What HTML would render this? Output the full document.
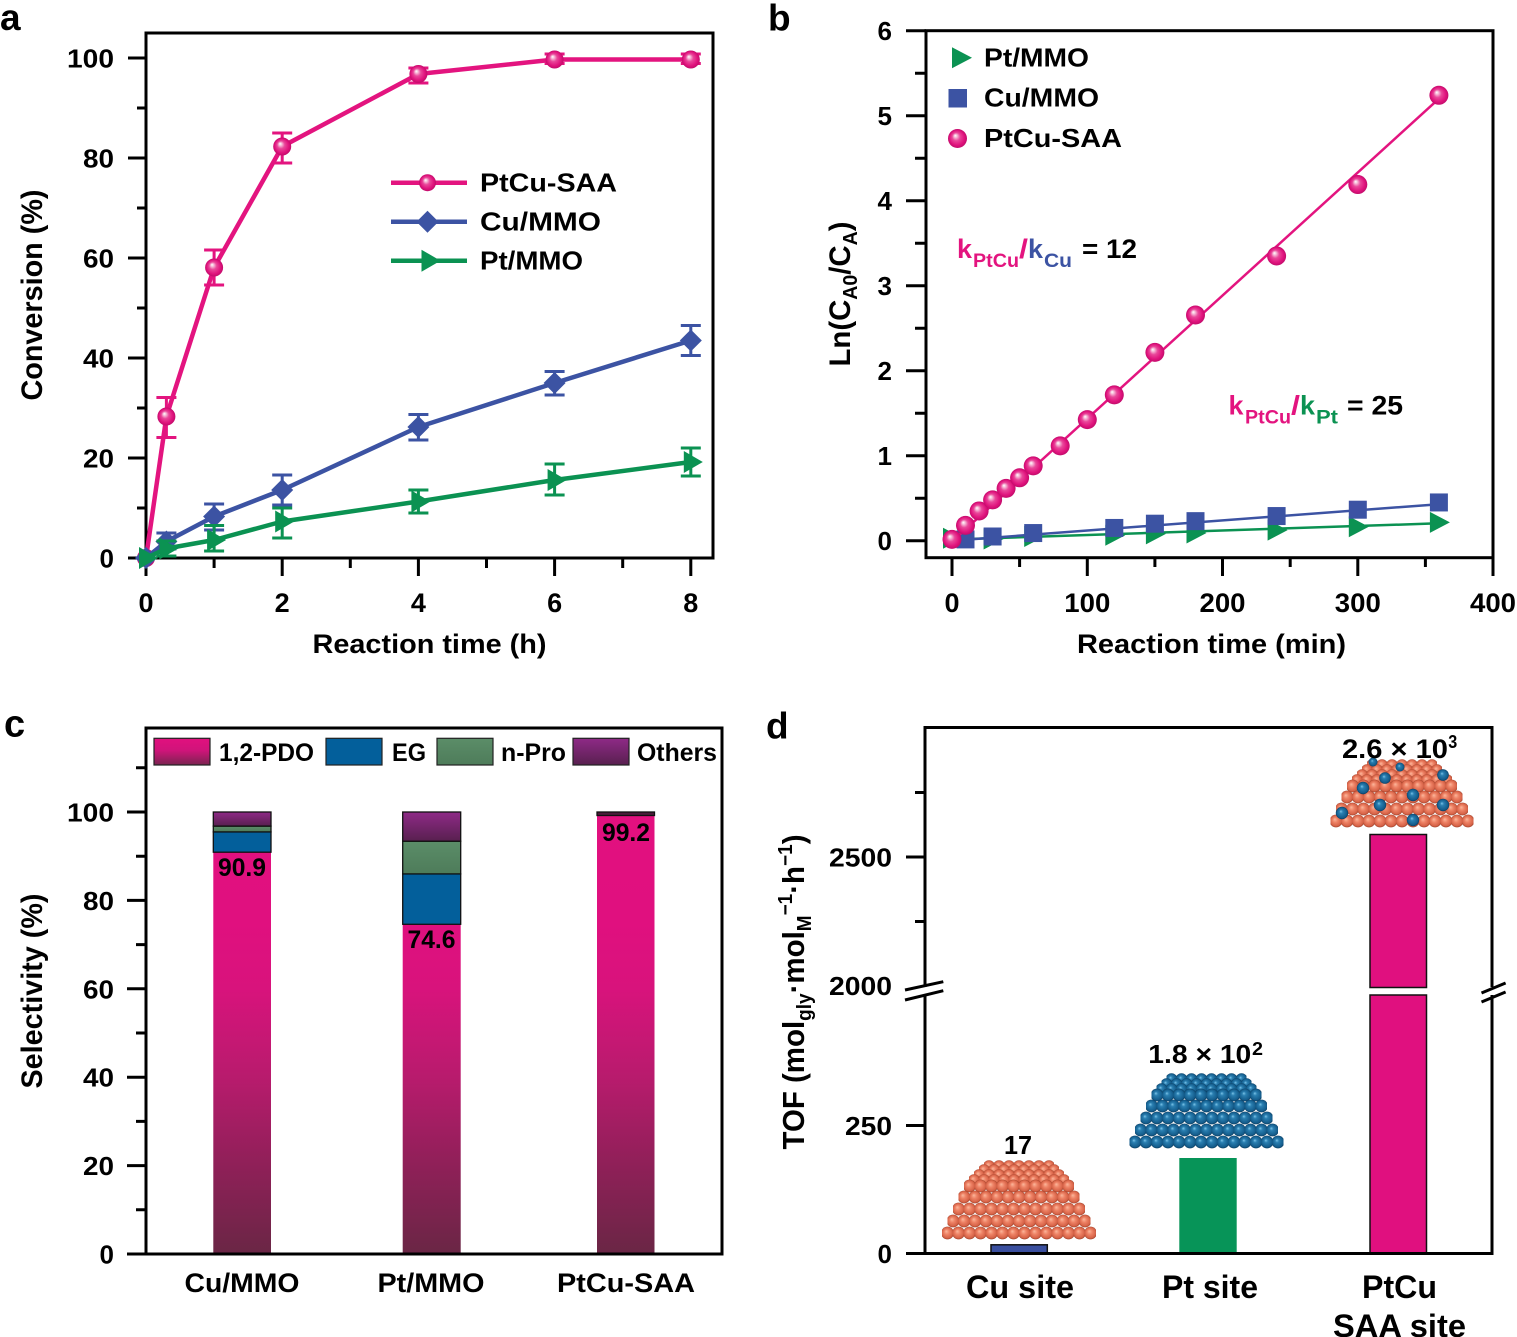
<!DOCTYPE html>
<html><head><meta charset="utf-8"><style>html,body{margin:0;padding:0;background:#fff}svg{display:block}</style></head><body>
<svg width="1517" height="1337" viewBox="0 0 1517 1337" xmlns="http://www.w3.org/2000/svg" font-family="'Liberation Sans', Arial, sans-serif" font-weight="bold">
<defs>
<radialGradient id="sph" cx="0.5" cy="0.5" r="0.5" fx="0.38" fy="0.34"><stop offset="0" stop-color="#ffffff"/><stop offset="0.15" stop-color="#f7c3dc"/><stop offset="0.42" stop-color="#e9479a"/><stop offset="0.78" stop-color="#e0137d"/><stop offset="1" stop-color="#c20c6b"/></radialGradient>
<radialGradient id="gCu" cx="0.5" cy="0.5" r="0.5" fx="0.4" fy="0.36"><stop offset="0" stop-color="#fbb79c"/><stop offset="0.4" stop-color="#ee8366"/><stop offset="0.85" stop-color="#d56146"/><stop offset="1" stop-color="#9c4029"/></radialGradient>
<radialGradient id="gBl" cx="0.5" cy="0.5" r="0.5" fx="0.4" fy="0.36"><stop offset="0" stop-color="#7cc4e8"/><stop offset="0.3" stop-color="#2a7fb1"/><stop offset="0.85" stop-color="#135b8a"/><stop offset="1" stop-color="#0a3a5c"/></radialGradient>
<pattern id="pCu" width="11" height="14" patternUnits="userSpaceOnUse"><circle cx="5.5" cy="7" r="6.4" fill="url(#gCu)"/></pattern>
<pattern id="pCuS" width="10" height="12" patternUnits="userSpaceOnUse"><circle cx="5" cy="6" r="5.8" fill="url(#gCu)"/></pattern>
<pattern id="pBl" width="11" height="14" patternUnits="userSpaceOnUse"><circle cx="5.5" cy="7" r="6.4" fill="url(#gBl)"/></pattern>
<pattern id="pBlS" width="10" height="12" patternUnits="userSpaceOnUse"><circle cx="5" cy="6" r="5.8" fill="url(#gBl)"/></pattern>
<linearGradient id="gPDO" gradientUnits="userSpaceOnUse" x1="0" y1="1254" x2="0" y2="812"><stop offset="0" stop-color="#6a2645"/><stop offset="0.2" stop-color="#8f2058"/><stop offset="0.4" stop-color="#b81b6d"/><stop offset="0.6" stop-color="#d8137c"/><stop offset="0.75" stop-color="#e0107f"/><stop offset="1" stop-color="#e2107f"/></linearGradient>
<linearGradient id="gPDOleg" x1="0" y1="0" x2="0" y2="1"><stop offset="0" stop-color="#e2107f"/><stop offset="0.45" stop-color="#d0147a"/><stop offset="1" stop-color="#7a2450"/></linearGradient>
<linearGradient id="gOth" x1="0" y1="0" x2="0" y2="1"><stop offset="0" stop-color="#8f2a87"/><stop offset="1" stop-color="#58204f"/></linearGradient>
<linearGradient id="gNP" x1="0" y1="0" x2="0" y2="1"><stop offset="0" stop-color="#5b8d68"/><stop offset="1" stop-color="#4e7c5a"/></linearGradient>
</defs>
<rect width="1517" height="1337" fill="#fff"/>

<!-- ============ PANEL A ============ -->
<text x="0" y="30" font-size="37">a</text>
<rect x="146" y="33" width="567" height="525" fill="none" stroke="#000" stroke-width="3"/>
<path d="M128 558H146M128 458H146M128 358H146M128 258H146M128 158H146M128 58H146M137 508H146M137 408H146M137 308H146M137 208H146M137 108H146" stroke="#000" stroke-width="3"/>
<path d="M146 558V576M282.2 558V576M418.4 558V576M554.6 558V576M690.8 558V576M214.1 558V568M350.3 558V568M486.5 558V568M622.7 558V568" stroke="#000" stroke-width="3"/>
<g font-size="26" text-anchor="end">
<text x="114" y="67.5" textLength="47" lengthAdjust="spacingAndGlyphs">100</text>
<text x="114" y="167.5" textLength="31" lengthAdjust="spacingAndGlyphs">80</text>
<text x="114" y="267.5" textLength="31" lengthAdjust="spacingAndGlyphs">60</text>
<text x="114" y="367.5" textLength="31" lengthAdjust="spacingAndGlyphs">40</text>
<text x="114" y="467.5" textLength="31" lengthAdjust="spacingAndGlyphs">20</text>
<text x="114" y="567.5">0</text>
</g>
<g font-size="27" text-anchor="middle">
<text x="146" y="612">0</text><text x="282.2" y="612">2</text><text x="418.4" y="612">4</text><text x="554.6" y="612">6</text><text x="690.8" y="612">8</text>
</g>
<text x="429.5" y="653" font-size="27" text-anchor="middle" textLength="234" lengthAdjust="spacingAndGlyphs">Reaction time (h)</text>
<text transform="translate(42,295) rotate(-90)" font-size="30" text-anchor="middle" textLength="211" lengthAdjust="spacingAndGlyphs">Conversion (%)</text>

<!-- PtCu series -->
<polyline points="146,558 166.4,416.5 214.1,267.5 282.2,146.5 418.4,74 554.6,59.5 690.8,59.5" fill="none" stroke="#e3147f" stroke-width="4.5" stroke-linejoin="round"/>
<path d="M166.4 397.5V437.5M156.4 397.5H176.4M156.4 437.5H176.4M214.1 250V285M204.1 250H224.1M204.1 285H224.1M282.2 133V163M272.2 133H292.2M272.2 163H292.2M418.4 68V83M408.4 68H428.4M408.4 83H428.4M554.6 54V63.5M544.6 54H564.6M544.6 63.5H564.6M690.8 54V63.5M680.8 54H700.8M680.8 63.5H700.8" stroke="#e3147f" stroke-width="3" fill="none"/>
<g fill="url(#sph)">
<circle cx="166.4" cy="416.5" r="9"/><circle cx="214.1" cy="267.5" r="9"/><circle cx="282.2" cy="146.5" r="9"/><circle cx="418.4" cy="74" r="9"/><circle cx="554.6" cy="59.5" r="9"/><circle cx="690.8" cy="59.5" r="9"/><circle cx="146" cy="558" r="9"/>
</g>
<!-- Cu series -->
<polyline points="146,558 166.4,541.5 214.1,516.5 282.2,490 418.4,427 554.6,383 690.8,340.5" fill="none" stroke="#3c53a3" stroke-width="4.5" stroke-linejoin="round"/>
<path d="M166.4 533V549M156.4 533H176.4M156.4 549H176.4M214.1 504V530M204.1 504H224.1M204.1 530H224.1M282.2 475V505M272.2 475H292.2M272.2 505H292.2M418.4 414.5V440M408.4 414.5H428.4M408.4 440H428.4M554.6 371.5V395M544.6 371.5H564.6M544.6 395H564.6M690.8 325.5V355.5M680.8 325.5H700.8M680.8 355.5H700.8" stroke="#3c53a3" stroke-width="3" fill="none"/>
<g fill="#3c53a3">
<path d="M135 558L146 547L157 558L146 569Z"/><path d="M155.4 541.5L166.4 530.5L177.4 541.5L166.4 552.5Z"/><path d="M203.1 516.5L214.1 505.5L225.1 516.5L214.1 527.5Z"/><path d="M271.2 490L282.2 479L293.2 490L282.2 501Z"/><path d="M407.4 427L418.4 416L429.4 427L418.4 438Z"/><path d="M543.6 383L554.6 372L565.6 383L554.6 394Z"/><path d="M679.8 340.5L690.8 329.5L701.8 340.5L690.8 351.5Z"/>
</g>
<!-- Pt series -->
<polyline points="146,558 166.4,548.5 214.1,540 282.2,521.5 418.4,501.5 554.6,480 690.8,462" fill="none" stroke="#0b9252" stroke-width="4.5" stroke-linejoin="round"/>
<path d="M166.4 541V556M156.4 541H176.4M156.4 556H176.4M214.1 525.5V551M204.1 525.5H224.1M204.1 551H224.1M282.2 508V538M272.2 508H292.2M272.2 538H292.2M418.4 490V513M408.4 490H428.4M408.4 513H428.4M554.6 464V495M544.6 464H564.6M544.6 495H564.6M690.8 448V476M680.8 448H700.8M680.8 476H700.8" stroke="#0b9252" stroke-width="3" fill="none"/>
<g fill="#0b9252">
<path d="M139 547L158 558L139 569Z"/><path d="M159.4 537.5L178.4 548.5L159.4 559.5Z"/><path d="M207.1 529L226.1 540L207.1 551Z"/><path d="M275.2 510.5L294.2 521.5L275.2 532.5Z"/><path d="M411.4 490.5L430.4 501.5L411.4 512.5Z"/><path d="M547.6 469L566.6 480L547.6 491Z"/><path d="M683.8 451L702.8 462L683.8 473Z"/>
</g>
<!-- legend a -->
<path d="M391 182.7H467" stroke="#e3147f" stroke-width="4.5"/><circle cx="427.5" cy="182.7" r="8.5" fill="url(#sph)"/>
<path d="M391 221.7H467" stroke="#3c53a3" stroke-width="4.5"/><path d="M416.5 221.7L427.5 210.7L438.5 221.7L427.5 232.7Z" fill="#3c53a3"/>
<path d="M391 260.7H467" stroke="#0b9252" stroke-width="4.5"/><path d="M421.5 249.7L440.5 260.7L421.5 271.7Z" fill="#0b9252"/>
<g font-size="26">
<text x="480" y="191.5" textLength="137" lengthAdjust="spacingAndGlyphs">PtCu-SAA</text>
<text x="480" y="230.5" textLength="121" lengthAdjust="spacingAndGlyphs">Cu/MMO</text>
<text x="480" y="269.5" textLength="103" lengthAdjust="spacingAndGlyphs">Pt/MMO</text>
</g>

<!-- ============ PANEL B ============ -->
<text x="768" y="30.7" font-size="37">b</text>
<rect x="926" y="30.7" width="567" height="527" fill="none" stroke="#000" stroke-width="3"/>
<path d="M906 540.7H926M906 455.7H926M906 370.7H926M906 285.7H926M906 200.7H926M906 115.7H926M906 30.7H926M915 498.2H926M915 413.2H926M915 328.2H926M915 243.2H926M915 158.2H926M915 73.2H926" stroke="#000" stroke-width="3"/>
<path d="M952 557.7V576M1087.3 557.7V576M1222.5 557.7V576M1357.8 557.7V576M1493 557.7V576M1019.6 557.7V567M1154.9 557.7V567M1290.2 557.7V567M1425.4 557.7V567" stroke="#000" stroke-width="3"/>
<g font-size="26" text-anchor="end">
<text x="892" y="550.2">0</text><text x="892" y="465.2">1</text><text x="892" y="380.2">2</text><text x="892" y="295.2">3</text><text x="892" y="210.2">4</text><text x="892" y="125.2">5</text><text x="892" y="40.2">6</text>
</g>
<g font-size="27" text-anchor="middle">
<text x="952" y="612">0</text>
<text x="1087.3" y="612" textLength="46" lengthAdjust="spacingAndGlyphs">100</text>
<text x="1222.5" y="612" textLength="46" lengthAdjust="spacingAndGlyphs">200</text>
<text x="1357.8" y="612" textLength="46" lengthAdjust="spacingAndGlyphs">300</text>
<text x="1493" y="612" textLength="46" lengthAdjust="spacingAndGlyphs">400</text>
</g>
<text x="1211.5" y="653" font-size="27" text-anchor="middle" textLength="269" lengthAdjust="spacingAndGlyphs">Reaction time (min)</text>
<text transform="translate(850,294) rotate(-90)" font-size="30" text-anchor="middle" textLength="145" lengthAdjust="spacingAndGlyphs">Ln(C<tspan font-size="20" dy="7">A0</tspan><tspan dy="-7">/C</tspan><tspan font-size="20" dy="7">A</tspan><tspan dy="-7">)</tspan></text>

<!-- Pt/MMO -->
<path d="M952 539.5L1438.9 523.3" stroke="#0b9252" stroke-width="2.5"/>
<g fill="#0b9252">
<path d="M943 527.7L963 538.2L943 548.7Z"/><path d="M983.6 528.5L1003.6 539L983.6 549.5Z"/><path d="M1024.2 525.95L1044.2 536.45L1024.2 546.95Z"/><path d="M1105.3 524.7L1125.3 535.2L1105.3 545.7Z"/><path d="M1145.9 523.4L1165.9 533.9L1145.9 544.4Z"/><path d="M1186.5 522.55L1206.5 533.05L1186.5 543.55Z"/><path d="M1267.6 519.6L1287.6 530.1L1267.6 540.6Z"/><path d="M1348.8 516.2L1368.8 526.7L1348.8 537.2Z"/><path d="M1429.9 511.9L1449.9 522.4L1429.9 532.9Z"/>
</g>
<!-- Cu/MMO -->
<path d="M952 540.7L1438.9 504.2" stroke="#3c53a3" stroke-width="2.5"/>
<g fill="#3c53a3">
<rect x="956.5" y="530.4" width="18" height="18"/><rect x="983.6" y="527.5" width="18" height="18"/><rect x="1024.2" y="524.05" width="18" height="18"/><rect x="1105.3" y="518.95" width="18" height="18"/><rect x="1145.9" y="514.7" width="18" height="18"/><rect x="1186.5" y="512.15" width="18" height="18"/><rect x="1267.6" y="507.05" width="18" height="18"/><rect x="1348.8" y="500.7" width="18" height="18"/><rect x="1429.9" y="493.45" width="18" height="18"/>
</g>
<!-- PtCu-SAA -->
<path d="M952 541.6L1438.9 98.7" stroke="#e3147f" stroke-width="2.5"/>
<g fill="url(#sph)">
<circle cx="952" cy="539.4" r="9.5"/><circle cx="965.5" cy="525.4" r="9.5"/><circle cx="979.1" cy="510.95" r="9.5"/><circle cx="992.6" cy="499.9" r="9.5"/><circle cx="1006.1" cy="488.4" r="9.5"/><circle cx="1019.6" cy="477.8" r="9.5"/><circle cx="1033.2" cy="465.9" r="9.5"/><circle cx="1060.2" cy="445.9" r="9.5"/><circle cx="1087.3" cy="419.6" r="9.5"/><circle cx="1114.3" cy="394.9" r="9.5"/><circle cx="1154.9" cy="352.4" r="9.5"/><circle cx="1195.5" cy="315" r="9.5"/><circle cx="1276.6" cy="255.95" r="9.5"/><circle cx="1357.8" cy="184.55" r="9.5"/><circle cx="1438.9" cy="95.3" r="9.5"/>
</g>
<!-- legend b -->
<path d="M952 47.3L972 57.8L952 68.3Z" fill="#0b9252"/>
<rect x="948.5" y="89" width="18.5" height="18.5" fill="#3c53a3"/>
<circle cx="957.5" cy="138.5" r="9.5" fill="url(#sph)"/>
<g font-size="26">
<text x="984" y="66.5" textLength="105" lengthAdjust="spacingAndGlyphs">Pt/MMO</text>
<text x="984" y="106.5" textLength="115" lengthAdjust="spacingAndGlyphs">Cu/MMO</text>
<text x="984" y="147" textLength="138" lengthAdjust="spacingAndGlyphs">PtCu-SAA</text>
</g>
<!-- annotations -->
<g font-size="27">
<text x="957" y="258" fill="#e3147f" textLength="15" lengthAdjust="spacingAndGlyphs">k</text>
<text x="973" y="267" font-size="19" fill="#e3147f" textLength="46" lengthAdjust="spacingAndGlyphs">PtCu</text>
<text x="1019" y="258" fill="#e3147f" textLength="9" lengthAdjust="spacingAndGlyphs">/</text>
<text x="1028" y="258" fill="#3c53a3" textLength="15" lengthAdjust="spacingAndGlyphs">k</text>
<text x="1044" y="267" font-size="19" fill="#3c53a3" textLength="28" lengthAdjust="spacingAndGlyphs">Cu</text>
<text x="1082" y="258" textLength="55" lengthAdjust="spacingAndGlyphs">= 12</text>
<text x="1228.5" y="414.5" fill="#e3147f" textLength="15" lengthAdjust="spacingAndGlyphs">k</text>
<text x="1245" y="423.5" font-size="19" fill="#e3147f" textLength="46" lengthAdjust="spacingAndGlyphs">PtCu</text>
<text x="1291" y="414.5" fill="#e3147f" textLength="9" lengthAdjust="spacingAndGlyphs">/</text>
<text x="1300" y="414.5" fill="#0b9252" textLength="15" lengthAdjust="spacingAndGlyphs">k</text>
<text x="1316" y="423.5" font-size="19" fill="#0b9252" textLength="22" lengthAdjust="spacingAndGlyphs">Pt</text>
<text x="1347" y="414.5" textLength="56" lengthAdjust="spacingAndGlyphs">= 25</text>
</g>

<!-- ============ PANEL C ============ -->
<text x="4" y="736.6" font-size="38">c</text>
<rect x="213.3" y="852.2" width="57.7" height="401.8" fill="url(#gPDO)"/>
<rect x="213.3" y="831.9" width="57.7" height="20.3" fill="#035f9b" stroke="#111" stroke-width="1.3"/>
<rect x="213.3" y="826.1" width="57.7" height="5.8" fill="url(#gNP)" stroke="#111" stroke-width="1.3"/>
<rect x="213.3" y="812" width="57.7" height="14.1" fill="url(#gOth)" stroke="#111" stroke-width="1.3"/>
<rect x="402.7" y="924.3" width="58" height="329.7" fill="url(#gPDO)"/>
<rect x="402.7" y="873.9" width="58" height="50.4" fill="#035f9b" stroke="#111" stroke-width="1.3"/>
<rect x="402.7" y="841.2" width="58" height="32.7" fill="url(#gNP)" stroke="#111" stroke-width="1.3"/>
<rect x="402.7" y="812" width="58" height="29.2" fill="url(#gOth)" stroke="#111" stroke-width="1.3"/>
<rect x="597" y="815.5" width="57.5" height="438.5" fill="url(#gPDO)"/>
<rect x="597" y="812" width="57.5" height="3.5" fill="#4a1c3a" stroke="#111" stroke-width="1.3"/>
<g font-size="25" text-anchor="middle">
<text x="242" y="876" textLength="48" lengthAdjust="spacingAndGlyphs">90.9</text>
<text x="431.5" y="948" textLength="48" lengthAdjust="spacingAndGlyphs">74.6</text>
<text x="626" y="841" textLength="48" lengthAdjust="spacingAndGlyphs">99.2</text>
</g>
<rect x="146" y="728" width="576" height="526" fill="none" stroke="#000" stroke-width="3"/>
<path d="M127 1254H146M127 1165.6H146M127 1077.2H146M127 988.8H146M127 900.4H146M127 812H146M136 1209.8H146M136 1121.4H146M136 1033H146M136 944.6H146M136 856.2H146M136 767.8H146" stroke="#000" stroke-width="3"/>
<g font-size="26" text-anchor="end">
<text x="114" y="821.5" textLength="47" lengthAdjust="spacingAndGlyphs">100</text>
<text x="114" y="909.9" textLength="31" lengthAdjust="spacingAndGlyphs">80</text>
<text x="114" y="998.3" textLength="31" lengthAdjust="spacingAndGlyphs">60</text>
<text x="114" y="1086.7" textLength="31" lengthAdjust="spacingAndGlyphs">40</text>
<text x="114" y="1175.1" textLength="31" lengthAdjust="spacingAndGlyphs">20</text>
<text x="114" y="1263.5">0</text>
</g>
<rect x="154" y="738.3" width="56" height="26.7" fill="url(#gPDOleg)" stroke="#222" stroke-width="1.2"/>
<rect x="326" y="738.3" width="56" height="26.7" fill="#035f9b" stroke="#222" stroke-width="1.2"/>
<rect x="437" y="738.3" width="56" height="26.7" fill="url(#gNP)" stroke="#222" stroke-width="1.2"/>
<rect x="573" y="738.3" width="56" height="26.7" fill="url(#gOth)" stroke="#222" stroke-width="1.2"/>
<g font-size="25">
<text x="219" y="761" textLength="95" lengthAdjust="spacingAndGlyphs">1,2-PDO</text>
<text x="392" y="761" textLength="34" lengthAdjust="spacingAndGlyphs">EG</text>
<text x="501" y="761" textLength="65" lengthAdjust="spacingAndGlyphs">n-Pro</text>
<text x="637" y="761" textLength="80" lengthAdjust="spacingAndGlyphs">Others</text>
</g>
<g font-size="27" text-anchor="middle">
<text x="242" y="1292" textLength="115" lengthAdjust="spacingAndGlyphs">Cu/MMO</text>
<text x="431" y="1292" textLength="107" lengthAdjust="spacingAndGlyphs">Pt/MMO</text>
<text x="626" y="1292" textLength="138" lengthAdjust="spacingAndGlyphs">PtCu-SAA</text>
</g>
<text transform="translate(42,991) rotate(-90)" font-size="30" text-anchor="middle" textLength="195" lengthAdjust="spacingAndGlyphs">Selectivity (%)</text>

<!-- ============ PANEL D ============ -->
<text x="766" y="738.7" font-size="37">d</text>
<rect x="991" y="1244.8" width="56.3" height="8.7" fill="#3a4f9f" stroke="#111" stroke-width="1.5"/>
<rect x="1179.3" y="1158" width="57.4" height="95.5" fill="#079458"/>
<rect x="1370" y="834.5" width="56.5" height="153" fill="#e0107f" stroke="#111" stroke-width="1.5"/>
<rect x="1370" y="995" width="56.5" height="258.5" fill="#e0107f" stroke="#111" stroke-width="1.5"/>
<rect x="925" y="727.5" width="567" height="526" fill="none" stroke="#000" stroke-width="3"/>
<path d="M906 1253.5H925M906 1125.5H925M906 857H925M915 921.5H925M915 792.5H925" stroke="#000" stroke-width="3"/>
<rect x="918" y="987" width="14" height="8" fill="#fff"/>
<rect x="1485" y="987" width="14" height="8" fill="#fff"/>
<path d="M905 990L943.3 981.7M905 1000L943.3 990.7M1481.5 993L1505.6 983M1481.5 1002L1505.6 992" stroke="#000" stroke-width="3"/>
<g font-size="26" text-anchor="end">
<text x="892" y="1263">0</text>
<text x="892" y="1135" textLength="47" lengthAdjust="spacingAndGlyphs">250</text>
<text x="892" y="995" textLength="63" lengthAdjust="spacingAndGlyphs">2000</text>
<text x="892" y="866.5" textLength="63" lengthAdjust="spacingAndGlyphs">2500</text>
</g>
<!-- Cu cluster -->
<g fill="url(#pCuS)">
<g transform="translate(984,1160)"><rect width="70" height="12"/></g>
<g transform="translate(979,1164)"><rect width="80" height="12"/></g>
<g transform="translate(974,1169)"><rect width="90" height="12"/></g>
<g transform="translate(969,1174)"><rect width="100" height="12"/></g>
</g>
<g fill="url(#pCu)">
<g transform="translate(964,1179)"><rect width="110" height="14"/></g>
<g transform="translate(958.5,1190)"><rect width="121" height="14"/></g>
<g transform="translate(953,1202)"><rect width="132" height="14"/></g>
<g transform="translate(947.5,1214)"><rect width="143" height="14"/></g>
<g transform="translate(942,1226)"><rect width="154" height="14"/></g>
</g>
<!-- Pt cluster -->
<g fill="url(#pBlS)">
<g transform="translate(1166.5,1073)"><rect width="80" height="12"/></g>
<g transform="translate(1161.5,1078)"><rect width="90" height="12"/></g>
<g transform="translate(1156.5,1083)"><rect width="100" height="12"/></g>
</g>
<g fill="url(#pBl)">
<g transform="translate(1151.5,1088)"><rect width="110" height="14"/></g>
<g transform="translate(1146,1099)"><rect width="121" height="14"/></g>
<g transform="translate(1140.5,1111)"><rect width="132" height="14"/></g>
<g transform="translate(1135,1123)"><rect width="143" height="14"/></g>
<g transform="translate(1129.5,1135)"><rect width="154" height="14"/></g>
</g>
<!-- PtCu cluster -->
<g fill="url(#pCuS)">
<g transform="translate(1367,759)"><rect width="70" height="12"/></g>
<g transform="translate(1362,764)"><rect width="80" height="12"/></g>
<g transform="translate(1357,769)"><rect width="90" height="12"/></g>
<g transform="translate(1352,774)"><rect width="100" height="12"/></g>
</g>
<g fill="url(#pCu)">
<g transform="translate(1347,779)"><rect width="110" height="14"/></g>
<g transform="translate(1341.5,790)"><rect width="121" height="14"/></g>
<g transform="translate(1336,802)"><rect width="132" height="14"/></g>
<g transform="translate(1330.5,814)"><rect width="143" height="14"/></g>
</g>
<g fill="url(#gBl)">
<circle cx="1373" cy="762" r="4.5"/><circle cx="1400" cy="767" r="4.5"/><circle cx="1385" cy="778" r="5.8"/><circle cx="1443" cy="775" r="5.8"/><circle cx="1363" cy="788" r="6.2"/><circle cx="1413" cy="795" r="6.2"/><circle cx="1380" cy="805" r="6.2"/><circle cx="1443" cy="805" r="6.2"/><circle cx="1342" cy="813" r="6.2"/><circle cx="1413" cy="820" r="6.2"/>
</g>
<text x="1018" y="1154" font-size="26" text-anchor="middle" textLength="28" lengthAdjust="spacingAndGlyphs">17</text>
<text x="1148.3" y="1063" font-size="26" textLength="103" lengthAdjust="spacingAndGlyphs">1.8 × 10</text>
<text x="1252" y="1055" font-size="18" textLength="11" lengthAdjust="spacingAndGlyphs">2</text>
<text x="1342" y="758" font-size="27" textLength="106" lengthAdjust="spacingAndGlyphs">2.6 × 10</text>
<text x="1448.3" y="748" font-size="18" textLength="9" lengthAdjust="spacingAndGlyphs">3</text>
<g font-size="32" text-anchor="middle">
<text x="1020" y="1298" textLength="108" lengthAdjust="spacingAndGlyphs">Cu site</text>
<text x="1210" y="1298" textLength="96" lengthAdjust="spacingAndGlyphs">Pt site</text>
<text x="1399.5" y="1298" textLength="75" lengthAdjust="spacingAndGlyphs">PtCu</text>
<text x="1399.5" y="1337" textLength="133" lengthAdjust="spacingAndGlyphs">SAA site</text>
</g>
<text transform="translate(804,992) rotate(-90)" font-size="31" text-anchor="middle" textLength="315" lengthAdjust="spacingAndGlyphs">TOF (mol<tspan font-size="20" dy="7">gly</tspan><tspan dy="-7">·mol</tspan><tspan font-size="20" dy="7">M</tspan><tspan font-size="20" dy="-19">−1</tspan><tspan dy="12">·h</tspan><tspan font-size="20" dy="-12">−1</tspan><tspan dy="12">)</tspan></text>
</svg>
</body></html>
